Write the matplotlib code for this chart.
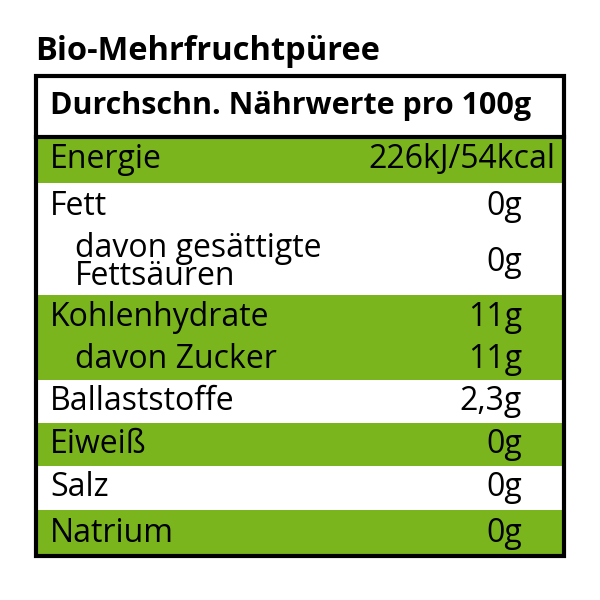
import matplotlib.pyplot as plt
from matplotlib.patches import Rectangle

plt.rcParams['font.family'] = ['Open Sans', 'DejaVu Sans']

title = 'Bio-Mehrfruchtpüree'
header = 'Durchschn. Nährwerte pro 100g'
labels = ['Energie', 'Fett', 'davon gesättigte\nFettsäuren', 'Kohlenhydrate',
          'davon Zucker', 'Ballaststoffe', 'Eiweiß', 'Salz', 'Natrium']
values = ['226kJ/54kcal', '0g', '0g', '11g', '11g', '2,3g', '0g', '0g', '0g']
green = [True, False, False, True, True, False, True, False, True]
indent = [False, False, True, False, True, False, False, False, False]

# layout (pixels)
row_tops = [137, 183, 230, 295, 340, 380, 423, 466, 510, 556]
green_col = '#7ab51d'

fig = plt.figure(figsize=(6, 6), dpi=100)
ax = fig.add_axes([0, 0, 1, 1])
ax.set_xlim(0, 600)
ax.set_ylim(600, 0)
ax.axis('off')

ax.text(35, 52, title, fontsize=23.5, fontweight='bold', va='center', ha='left')
ax.text(50, 106, header, fontsize=22, fontweight='bold', va='center', ha='left')

for i, lab in enumerate(labels):
    y0, y1 = row_tops[i], row_tops[i + 1]
    if green[i]:
        ax.add_patch(Rectangle((36, y0), 528, y1 - y0, color=green_col, lw=0))
    yc = (y0 + y1) / 2
    x = 75 if indent[i] else 50
    ax.text(x, yc, lab, fontsize=23, va='center', ha='left', linespacing=0.8)
    vx = 555 if i == 0 else 522
    ax.text(vx, yc, values[i], fontsize=23, va='center', ha='right')

ax.add_patch(Rectangle((36, 76), 528, 480, fill=False, ec='black', lw=3))
ax.plot([36, 564], [137, 137], color='black', lw=3)

fig.savefig('out.png', dpi=100)
